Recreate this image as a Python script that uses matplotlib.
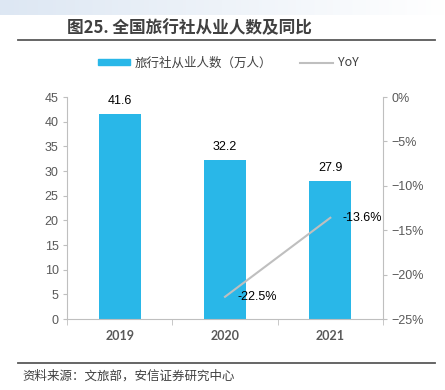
import numpy as np
import matplotlib
matplotlib.use("Agg")
import matplotlib.pyplot as plt
from matplotlib.lines import Line2D
from matplotlib.patches import Patch
from matplotlib.ticker import FuncFormatter, MultipleLocator

plt.rcParams["font.family"] = ["Liberation Sans", "Noto Sans CJK SC", "DejaVu Sans"]

years = ["2019", "2020", "2021"]
staff = [41.6, 32.2, 27.9]            # 旅行社从业人数（万人）
yoy_years = ["2020", "2021"]
yoy = [-22.5, -13.6]                  # %

BAR = "#29b7e8"
LINE = "#bfbfbf"
SPINE = "#bfbfbf"
TXT = "#595959"
CJK = ["Noto Sans CJK SC", "DejaVu Sans"]

W, H = 445, 390
fig = plt.figure(figsize=(W / 100, H / 100), dpi=100)

# header gradient band
band = fig.add_axes([0, 1 - 15 / H, 1, 15 / H])
grad = np.linspace(0, 1, 256).reshape(1, -1)
band.imshow(grad, aspect="auto", cmap=matplotlib.colors.LinearSegmentedColormap.from_list(
    "hdr", ["#dde7f3", "#eef3f9", "#ffffff"]), extent=[0, 1, 0, 1])
band.set_axis_off()

fig.text(67 / W, 1 - 28 / H, "图25. 全国旅行社从业人数及同比", family=CJK,
         fontsize=12, fontweight="bold", color="#404040", va="center", ha="left")
fig.add_artist(Line2D([18 / W, 435 / W], [1 - 40 / H] * 2, color="#595959", lw=1.3))
fig.add_artist(Line2D([18 / W, 435 / W], [1 - 363 / H] * 2, color="#595959", lw=1.3))
fig.text(22 / W, 1 - 376 / H, "资料来源：文旅部，安信证券研究中心", family=CJK,
         fontsize=9, color="#404040", va="center", ha="left", style="italic")

ax = fig.add_axes([67 / W, 1 - 319 / H, 316 / W, 222 / H])
x = np.arange(len(years))
bars = ax.bar(x, staff, width=0.4, color=BAR, zorder=2)
for xi, v in zip(x, staff):
    ax.annotate(f"{v:.1f}", (xi, v), xytext=(0, 5), textcoords="offset points",
                ha="center", va="bottom", fontsize=9, color="#000000")

ax.set_xlim(-0.5, len(years) - 0.5)
ax.set_ylim(0, 45)
ax.yaxis.set_major_locator(MultipleLocator(5))
ax.set_xticks(x)
ax.set_xticklabels(years, fontsize=9, fontweight="bold", color=TXT, family=["Lato", "DejaVu Sans"])
ax.set_xticks(np.arange(-0.5, len(years), 1.0), minor=True)
ax.tick_params(axis="x", which="major", length=0, pad=8)
ax.tick_params(axis="x", which="minor", length=4, color=SPINE, direction="out")
ax.tick_params(axis="y", length=3, color=SPINE, labelsize=9, labelcolor=TXT, pad=3)
for s in ["top", "right"]:
    ax.spines[s].set_visible(False)
for s in ["left", "bottom"]:
    ax.spines[s].set_color(SPINE)

ax2 = ax.twinx()
yx = [years.index(y) for y in yoy_years]
line, = ax2.plot(yx, yoy, color=LINE, lw=1.5, zorder=3)
for xi, v in zip(yx, yoy):
    ax2.annotate(f"{v:.1f}%", (xi, v), xytext=(9, 0), textcoords="offset points",
                 ha="left", va="center", fontsize=9, color="#000000")
ax2.set_ylim(-25, 0)
ax2.yaxis.set_major_locator(MultipleLocator(5))
ax2.yaxis.set_major_formatter(FuncFormatter(lambda v, p: f"{int(round(v))}%".replace("-", "\u2212")))
ax2.tick_params(axis="y", length=3, color=SPINE, labelsize=9, labelcolor=TXT, pad=3)
for s in ["top", "left", "bottom"]:
    ax2.spines[s].set_visible(False)
ax2.spines["right"].set_color(SPINE)

handles = [Patch(color=BAR), Line2D([], [], color=LINE, lw=1.5)]
labels = ["旅行社从业人数（万人）", "YoY"]
leg = fig.legend(handles, labels, loc="center", bbox_to_anchor=(228 / W, 1 - 63 / H), ncol=2,
                 frameon=False, handlelength=2.6, handleheight=0.45,
                 columnspacing=2.2, handletextpad=0.4, prop={"family": CJK, "size": 9})
for t in leg.get_texts():
    t.set_color("#404040")

fig.savefig("out.png", dpi=100)
